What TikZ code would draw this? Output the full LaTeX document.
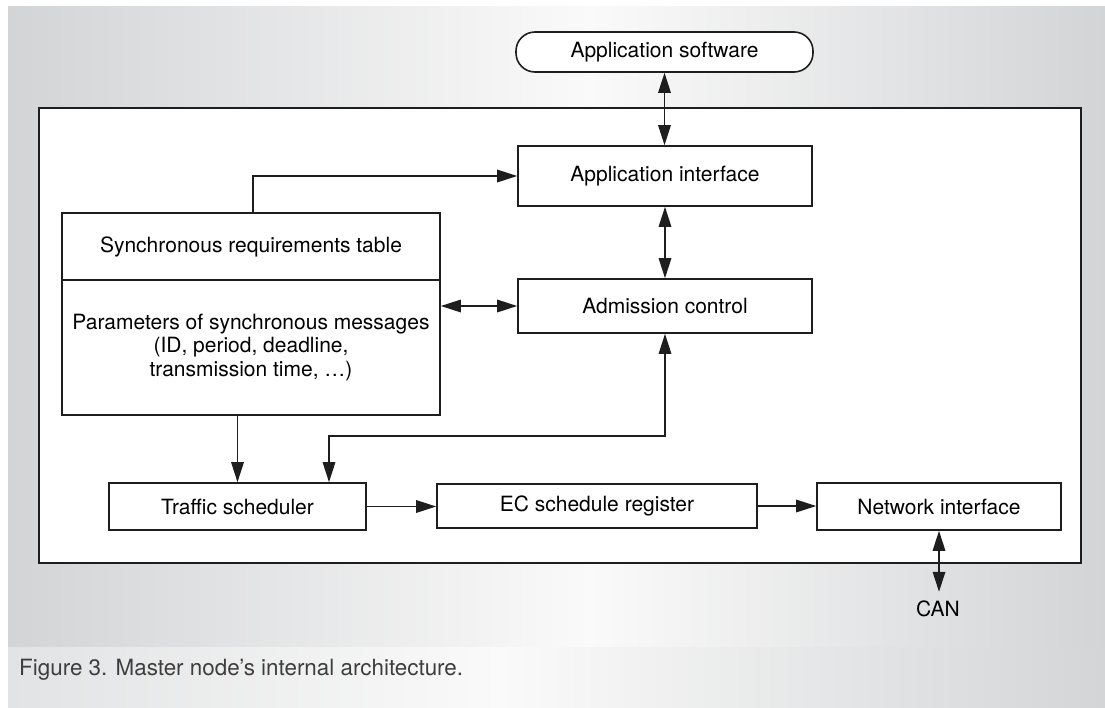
\documentclass[tikz,border=0pt]{standalone}
\usepackage{fontspec}
\setmainfont{TeX Gyre Heros}
\usetikzlibrary{arrows.meta,calc}
\definecolor{panelgray}{HTML}{D3D4D6}
\definecolor{panelhi}{HTML}{FAFAFA}
\definecolor{capleft}{HTML}{E2E3E4}
\definecolor{capright}{HTML}{D4D5D7}
\definecolor{ink}{HTML}{1E1E1E}
\definecolor{captext}{HTML}{3E3E3E}
\tikzset{
  tip/.tip={Triangle[length=20pt,width=12.5pt]},
  box/.style={draw=ink, line width=1.6pt, fill=white, inner sep=0pt,
    font=\fontsize{21}{23.5}\selectfont, align=center},
  link/.style={draw=ink, line width=1.6pt, -tip},
  dlink/.style={draw=ink, line width=1.6pt, tip-tip},
}
\begin{document}
\begin{tikzpicture}[x=1pt,y=-1pt]
\useasboundingbox (0,0) rectangle (1105,707);
\fill[white] (0,0) rectangle (1105,707);
% background panel and caption strip
\shade[left color=panelgray, right color=panelhi] (8,6) rectangle (590.5,647);
\shade[left color=panelhi, right color=panelgray] (590,6) rectangle (1105,647);
\shade[left color=capleft, right color=panelhi] (8,647) rectangle (500.5,707);
\shade[left color=panelhi, right color=capright] (500,647) rectangle (1105,707);

% master node frame
\node[draw=ink, line width=1.6pt, fill=white, inner sep=0pt, anchor=north west,
      minimum width=1042pt, minimum height=455pt] (master) at (38,107) {};

% blocks
\node[box, minimum width=297pt, minimum height=40pt, rounded corners=19pt] (appsw) at (664.5,52) {Application software};
\node[box, minimum width=294pt, minimum height=60pt] (appif) at (665,176) {Application interface};
\node[box, minimum width=294pt, minimum height=54pt] (adm) at (665,306) {Admission control};
\node[box, minimum width=378pt, minimum height=67pt] (tabhead) at (251,246.5) {Synchronous requirements table};
\node[box, minimum width=378pt, minimum height=135pt] (tabbody) at (251,347.5) {Parameters of synchronous messages\\(ID, period, deadline,\\transmission time, …)};
\node[box, minimum width=257pt, minimum height=47pt] (traffic) at (237.5,506.5) {Traffic scheduler};
\node[box, minimum width=320pt, minimum height=44pt] (ec) at (597,506) {EC schedule register};
\node[box, minimum width=244pt, minimum height=47pt] (net) at (939,506.5) {Network interface};
\node[font=\fontsize{21}{23.5}\selectfont, inner xsep=0pt, inner ysep=9pt] (can) at (938,609) {CAN};

\node[anchor=west, inner sep=0pt, font=\fontsize{22.4}{26}\selectfont, text=captext] (caption) at (19,670) {Figure 3. Master node’s internal architecture.};

% connectors
\coordinate (bend) at (329,436);
\draw[dlink] (appsw.south) -- (appsw.south |- appif.north);
\draw[link] ($(tabhead.north)+(2,0)$) |- (appif.west);
\draw[dlink] (appif.south) -- (appif.south |- adm.north);
\draw[dlink] (adm.west -| tabbody.east) -- (adm.west);
\draw[link] (traffic.north |- tabbody.south) -- (traffic.north);
\draw[dlink] (adm.south) |- (bend) -- (bend |- traffic.north);
\draw[link] (traffic.east) -- (traffic.east -| ec.west);
\draw[link] (ec.east) -- (ec.east -| net.west);
\draw[dlink] (net.south) -- (net.south |- can.north);
\end{tikzpicture}
\end{document}
